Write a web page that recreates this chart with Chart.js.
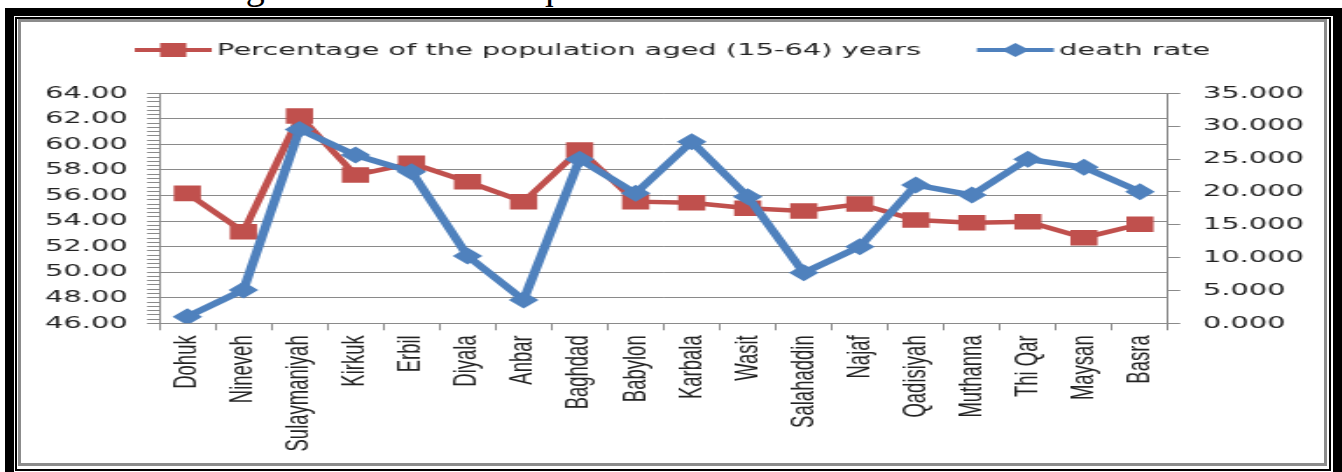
<!DOCTYPE html>
<html>
<head>
<meta charset="utf-8">
<script src="https://cdn.jsdelivr.net/npm/chart.js@4.4.1/dist/chart.umd.min.js"></script>
<style>
  html, body { margin: 0; padding: 0; background: #fff; }
  body { width: 1342px; height: 472px; position: relative; overflow: hidden; }
  .caption { position: absolute; left: 0; top: 0; width: 1342px; height: 8px; overflow: hidden; }
  .caption span { position: absolute; left: 22px; top: -33px; font: 38px/38px "Liberation Serif", serif; white-space: nowrap; color: #000; }
  .band { position: absolute; background: #000; }
  .thin { position: absolute; left: 15px; top: 17px; width: 1312px; height: 450px; border: 2px solid #000; }
  .area { position: absolute; left: 18px; top: 19px; width: 1303px; height: 441px; border: 3px solid #8c8c8c; background: #fff; }
  /* the chart is drawn narrow, then stretched sideways like the source picture */
  .wrap { position: absolute; left: 21px; top: 22px; width: 745px; height: 441px; transform: scaleX(1.749); transform-origin: 0 0; }
</style>
</head>
<body>
<div class="caption"><span>rates in all the governorates of Iraq in 2016</span></div>
<div class="band" style="left:5px;top:8px;width:1337px;height:8px"></div>
<div class="band" style="left:5px;top:8px;width:9px;height:464px"></div>
<div class="band" style="left:1333px;top:8px;width:9px;height:464px"></div>
<div class="thin"></div>
<div class="area"></div>
<div class="wrap"><canvas id="chart" width="745" height="441"></canvas></div>

<script>
// ── Data ───────────────────────────────────────────────────────
const governorates = ['Dohuk', 'Nineveh', 'Sulaymaniyah', 'Kirkuk', 'Erbil', 'Diyala', 'Anbar',
  'Baghdad', 'Babylon', 'Karbala', 'Wasit', 'Salahaddin', 'Najaf', 'Qadisiyah', 'Muthanna',
  'Thi Qar', 'Maysan', 'Basra'];

const workingAge = [56.17, 53.17, 62.22, 57.60, 58.52, 57.08, 55.52, 59.56, 55.52, 55.44,
  55.00, 54.79, 55.33, 54.08, 53.87, 53.95, 52.70, 53.75];

const deathRate = [1.0, 5.07, 29.5, 25.6, 23.07, 10.24, 3.55, 24.95, 19.78, 27.64,
  19.27, 7.7, 11.66, 21.05, 19.52, 24.96, 23.74, 20.03];

const leftTicks  = [46, 48, 50, 52, 54, 56, 58, 60, 62, 64];
const rightTicks = [0, 5, 10, 15, 20, 25, 30, 35];

// ── Style ──────────────────────────────────────────────────────
const RED  = '#C0504D';
const BLUE = '#4F81BD';
const GRID = '#8a8a8a';
const TEXT = '#222';
const tickFont = { family: 'DejaVu Sans', size: 16.5 };

// five minor marks between each labelled value on the left axis
const leftMinor = [];
for (let i = 0; i < leftTicks.length - 1; i++) {
  for (let k = 0; k < 6; k++) {
    leftMinor.push(leftTicks[i] + (leftTicks[i + 1] - leftTicks[i]) * k / 6);
  }
}
leftMinor.push(leftTicks[leftTicks.length - 1]);
const isMajor = v => leftTicks.some(t => Math.abs(t - v) < 1e-6);

// legend with a line through the marker, Excel style
const lineLegend = {
  id: 'lineLegend',
  afterDraw(chart) {
    const ctx = chart.ctx;
    const y = 28, lineLen = 44, textGap = 3, itemGap = 32;
    ctx.save();
    ctx.font = '16.5px "DejaVu Sans"';
    ctx.textBaseline = 'middle';
    const items = chart.data.datasets.map(ds => ({ ds, w: ctx.measureText(ds.label).width }));
    const total = items.reduce((s, it) => s + lineLen + textGap + it.w, 0) + itemGap * (items.length - 1);
    let x = chart.width / 2 - total / 2;
    items.forEach(({ ds, w }) => {
      ctx.strokeStyle = ds.borderColor;
      ctx.fillStyle = ds.borderColor;
      ctx.lineWidth = 4;
      ctx.beginPath();
      ctx.moveTo(x, y);
      ctx.lineTo(x + lineLen, y);
      ctx.stroke();
      const cx = x + lineLen / 2;
      if (ds.pointStyle === 'rect') {
        ctx.fillRect(cx - 7.5, y - 7, 15, 14);
      } else {
        ctx.beginPath();
        ctx.moveTo(cx - 8, y);
        ctx.lineTo(cx, y - 7);
        ctx.lineTo(cx + 8, y);
        ctx.lineTo(cx, y + 7);
        ctx.closePath();
        ctx.fill();
      }
      ctx.fillStyle = TEXT;
      ctx.fillText(ds.label, x + lineLen + textGap, y + 1);
      x += lineLen + textGap + w + itemGap;
    });
    ctx.restore();
  }
};

new Chart(document.getElementById('chart'), {
  type: 'line',
  data: {
    labels: governorates,
    datasets: [
      {
        label: 'Percentage of the population aged (15-64) years',
        data: workingAge,
        yAxisID: 'y',
        order: 1,
        borderColor: RED,
        backgroundColor: RED,
        borderWidth: 4.5,
        pointStyle: 'rect',
        pointRadius: 11,
        pointBackgroundColor: RED,
        pointBorderColor: RED,
        pointBorderWidth: 0,
        tension: 0,
      },
      {
        label: 'death rate',
        data: deathRate,
        yAxisID: 'y1',
        order: 0,
        borderColor: BLUE,
        backgroundColor: BLUE,
        borderWidth: 5.5,
        pointStyle: 'rectRot',
        pointRadius: 8.5,
        pointBackgroundColor: BLUE,
        pointBorderColor: BLUE,
        pointBorderWidth: 0,
        tension: 0,
      },
    ],
  },
  options: {
    responsive: false,
    animation: false,
    devicePixelRatio: 1,
    layout: { padding: { top: 71.3, left: 0, right: 0, bottom: 0 } },
    plugins: {
      legend: { display: false },
      tooltip: { enabled: false },
    },
    scales: {
      x: {
        type: 'category',
        offset: true,
        afterFit: s => { s.height = 139.7; },
        grid: { offset: true, drawOnChartArea: false, tickLength: 7, color: GRID },
        border: { color: GRID, width: 1 },
        ticks: {
          autoSkip: false, minRotation: 90, maxRotation: 90, padding: 5,
          color: TEXT, font: { family: 'Liberation Sans', size: 18.5 },
        },
      },
      y: {
        position: 'left',
        min: 46, max: 64,
        afterBuildTicks: s => { s.ticks = leftMinor.map(v => ({ value: v })); },
        afterFit: s => { s.width = 79.1; },
        grid: {
          color: c => (c.tick && isMajor(c.tick.value)) ? GRID : 'rgba(0,0,0,0)',
          tickColor: GRID, tickLength: 7, lineWidth: 1,
        },
        border: { color: GRID, width: 1 },
        ticks: {
          autoSkip: false, padding: 11, color: TEXT, font: tickFont,
          callback: v => isMajor(v) ? Number(v).toFixed(2) : '',
        },
      },
      y1: {
        position: 'right',
        min: 0, max: 35,
        afterBuildTicks: s => { s.ticks = rightTicks.map(v => ({ value: v })); },
        afterFit: s => { s.width = 89.2; },
        grid: { drawOnChartArea: false, tickColor: GRID, tickLength: 7 },
        border: { color: GRID, width: 1 },
        ticks: {
          autoSkip: false, padding: 13, color: TEXT, font: tickFont,
          callback: v => Number(v).toFixed(3),
        },
      },
    },
  },
  plugins: [lineLegend],
});
</script>
</body>
</html>
